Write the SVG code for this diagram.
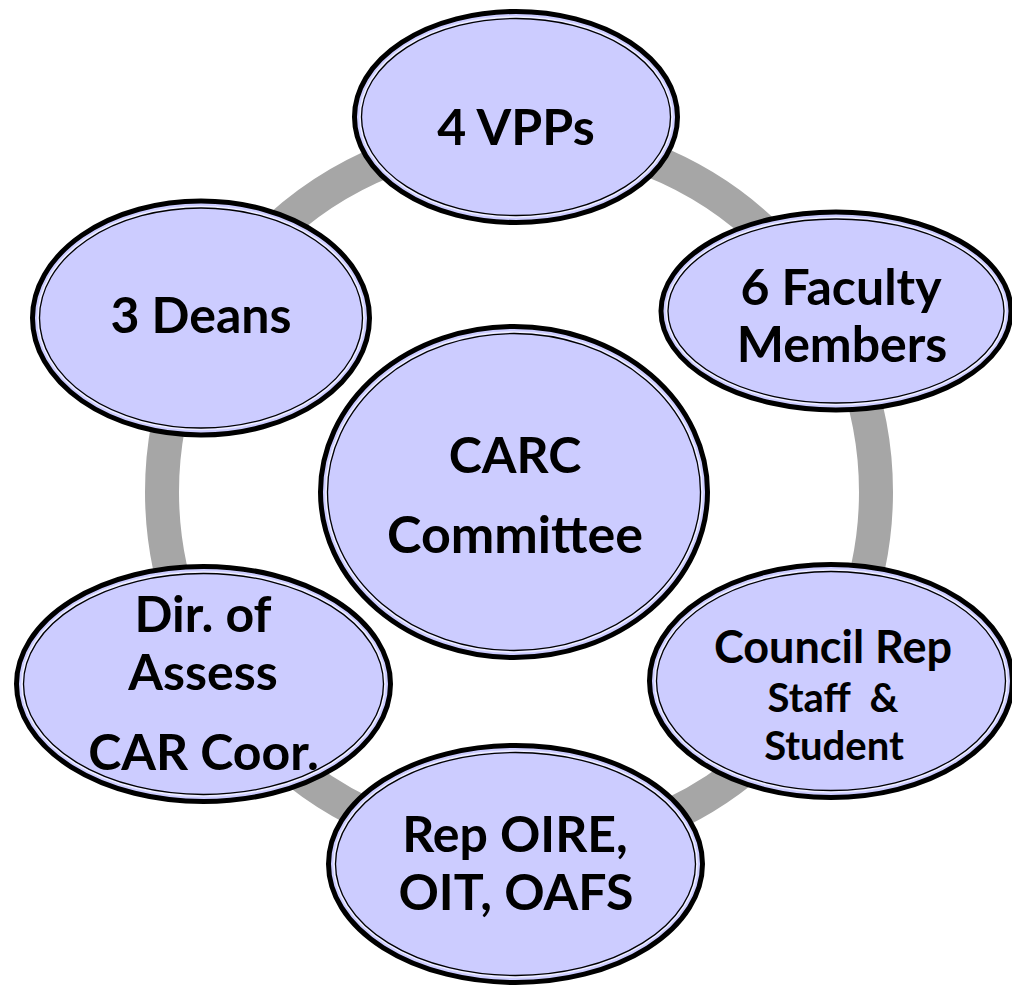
<svg xmlns="http://www.w3.org/2000/svg" width="1012" height="987" viewBox="0 0 1012 987">
<style>
.ring{fill:none;stroke:#A6A6A6;stroke-width:34}
.o{fill:#CCCCFF;stroke:#000;stroke-width:5}
.g{fill:none;stroke:#EEEEFF;stroke-width:1.6}
.i{fill:none;stroke:#000;stroke-width:1.3}
text{font-family:Lato,"Open Sans","Liberation Sans",sans-serif;font-weight:bold;fill:#000;text-anchor:middle}
.t{font-size:50px}
.s{font-size:45px}
.x{font-size:40px}
</style>
<rect width="1012" height="987" fill="#fff"/>
<g id="connectors">
<circle class="ring" cx="519" cy="492" r="357"/>
</g>
<g id="vpps">
<ellipse class="o" cx="516" cy="117" rx="161.5" ry="105.5"/>
<ellipse class="g" cx="516" cy="117" rx="156" ry="100"/>
<ellipse class="i" cx="516" cy="117" rx="154.5" ry="98.5"/>
<text class="t" x="516" y="145">4 VPPs</text>
</g>
<g id="faculty">
<ellipse class="o" cx="836" cy="311" rx="175" ry="99"/>
<ellipse class="g" cx="836" cy="311" rx="169.5" ry="93.5"/>
<ellipse class="i" cx="836" cy="311" rx="168" ry="92"/>
<text class="t" x="841" y="305">6 Faculty</text>
<text class="t" x="842" y="362">Members</text>
</g>
<g id="deans">
<ellipse class="o" cx="201" cy="318" rx="168.5" ry="117"/>
<ellipse class="g" cx="201" cy="318" rx="163" ry="111.5"/>
<ellipse class="i" cx="201" cy="318" rx="161.5" ry="110"/>
<text class="t" x="201" y="333">3 Deans</text>
</g>
<g id="council">
<ellipse class="o" cx="831" cy="681" rx="181.5" ry="116.5"/>
<ellipse class="g" cx="831" cy="681" rx="176" ry="111"/>
<ellipse class="i" cx="831" cy="681" rx="174.5" ry="109.5"/>
<text class="s" x="833" y="663">Council Rep</text>
<text class="x" x="833" y="712" xml:space="preserve">Staff  &amp;</text>
<text class="x" x="834" y="760">Student</text>
</g>
<g id="rep">
<ellipse class="o" cx="515.5" cy="864" rx="187" ry="118.5"/>
<ellipse class="g" cx="515.5" cy="864" rx="181.5" ry="113"/>
<ellipse class="i" cx="515.5" cy="864" rx="180" ry="111.5"/>
<text class="t" x="515" y="852">Rep OIRE,</text>
<text class="t" x="516" y="910">OIT, OAFS</text>
</g>
<g id="dir">
<ellipse class="o" cx="203.5" cy="684" rx="187" ry="117.5"/>
<ellipse class="g" cx="203.5" cy="684" rx="181.5" ry="112"/>
<ellipse class="i" cx="203.5" cy="684" rx="180" ry="110.5"/>
<text class="t" x="203" y="632">Dir. of</text>
<text class="t" x="203" y="690">Assess</text>
<text class="t" x="203.5" y="770">CAR Coor.</text>
</g>
<g id="carc">
<ellipse class="o" cx="514" cy="492" rx="193.5" ry="165.5"/>
<ellipse class="g" cx="514" cy="492" rx="188" ry="160"/>
<ellipse class="i" cx="514" cy="492" rx="186.5" ry="158.5"/>
<text class="t" x="515" y="473">CARC</text>
<text class="t" x="515" y="553" style="font-size:52px">Committee</text>
</g>
</svg>
